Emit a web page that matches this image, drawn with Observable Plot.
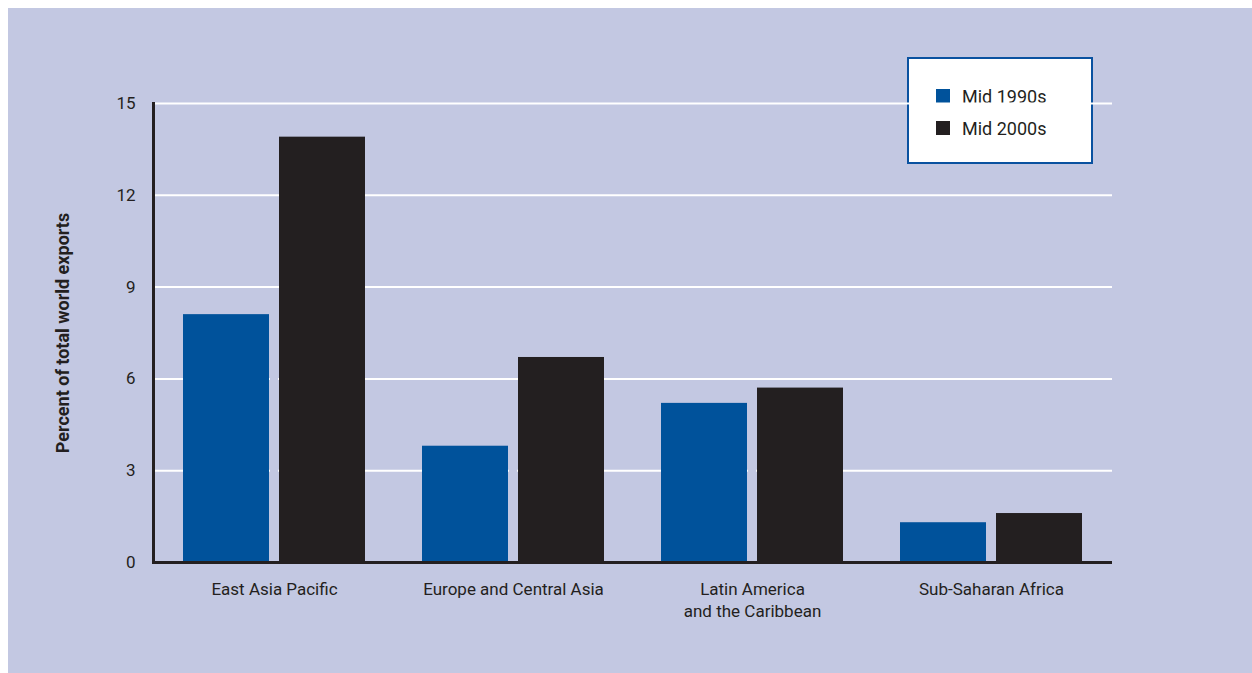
<!DOCTYPE html>
<html>
<head>
<meta charset="utf-8">
<script src="https://cdn.jsdelivr.net/npm/d3@7"></script>
<script src="https://cdn.jsdelivr.net/npm/@observablehq/plot@0.6"></script>
<style>
  html, body { margin: 0; padding: 0; background: #ffffff; }
  #panel {
    position: absolute; left: 8px; top: 8px; width: 1244px; height: 665px;
    background: #c3c8e2; overflow: hidden;
    font-family: "Liberation Sans Narrow", Roboto, sans-serif;
    color: #231f20;
  }
  #legend {
    position: absolute; left: 899px; top: 49px; width: 182px; height: 103px;
    border: 2px solid #0a52a0; background: #ffffff; box-sizing: content-box;
  }
  .item { position: absolute; left: 27px; height: 20px; display: flex; align-items: center; font-size: 18px; }
  .sw { width: 14px; height: 14px; margin-right: 12px; }
</style>
</head>
<body>
<div id="panel"><div id="legend"></div></div>
<script>
const regions = ["East Asia Pacific", "Europe and Central Asia", "Latin America\nand the Caribbean", "Sub-Saharan Africa"];
const series = ["Mid 1990s", "Mid 2000s"];
const colors = ["#00529b", "#231f20"];
const mid1990s = [8.1, 3.8, 5.2, 1.3];
const mid2000s = [13.9, 6.7, 5.7, 1.6];
const yTicks = [0, 3, 6, 9, 12, 15];
const yLabel = "Percent of total world exports";
const bg = "#c3c8e2";

const d1990 = regions.map((r, i) => ({region: r, value: mid1990s[i]}));
const d2000 = regions.map((r, i) => ({region: r, value: mid2000s[i]}));
const dMin = regions.map((r, i) => ({region: r, value: Math.min(mid1990s[i], mid2000s[i])}));

const chart = Plot.plot({
  width: 1244,
  height: 665,
  marginLeft: 145,
  marginRight: 140,
  marginTop: 95,
  marginBottom: 111,
  style: {background: "transparent", fontFamily: '"Liberation Sans Narrow", Roboto, sans-serif', color: "#231f20"},
  x: {domain: regions, paddingInner: 0.2375, paddingOuter: 0.11875, label: null},
  y: {domain: [0, 15], label: null},
  marks: [
    Plot.ruleY(yTicks.filter(d => d > 0), {stroke: "#ffffff", strokeWidth: 2}),
    Plot.barY(dMin, {x: "region", y: "value", fill: bg, insetLeft: 87, insetRight: 87}),
    Plot.barY(d1990, {x: "region", y: "value", fill: colors[0], insetRight: 96}),
    Plot.barY(d2000, {x: "region", y: "value", fill: colors[1], insetLeft: 96}),
    Plot.ruleY([0], {stroke: "#231f20", strokeWidth: 3}),
    Plot.frame({anchor: "left", stroke: "#231f20", strokeWidth: 3}),
    Plot.axisY({ticks: yTicks, tickSize: 0, tickPadding: 18, fontSize: 17, label: yLabel, labelAnchor: "center", labelOffset: 97}),
    Plot.axisX({tickSize: 0, tickPadding: 17, fontSize: 17, lineHeight: 1.3})
  ]
});
document.getElementById("panel").appendChild(chart);
chart.style.position = "absolute";
chart.style.left = "0px";
chart.style.top = "0px";

// y label: bold, no arrow
chart.querySelectorAll("text").forEach(t => {
  if (t.textContent.startsWith("Percent")) {
    t.textContent = yLabel;
    t.setAttribute("font-weight", "bold");
    t.setAttribute("font-size", "18");
  }
});

const legend = document.getElementById("legend");
series.forEach((s, i) => {
  const it = document.createElement("div");
  it.className = "item";
  it.style.top = (27 + i * 32) + "px";
  const sw = document.createElement("div");
  sw.className = "sw";
  sw.style.background = colors[i];
  it.appendChild(sw);
  const tx = document.createElement("span");
  tx.textContent = s;
  it.appendChild(tx);
  legend.appendChild(it);
});
</script>
</body>
</html>
